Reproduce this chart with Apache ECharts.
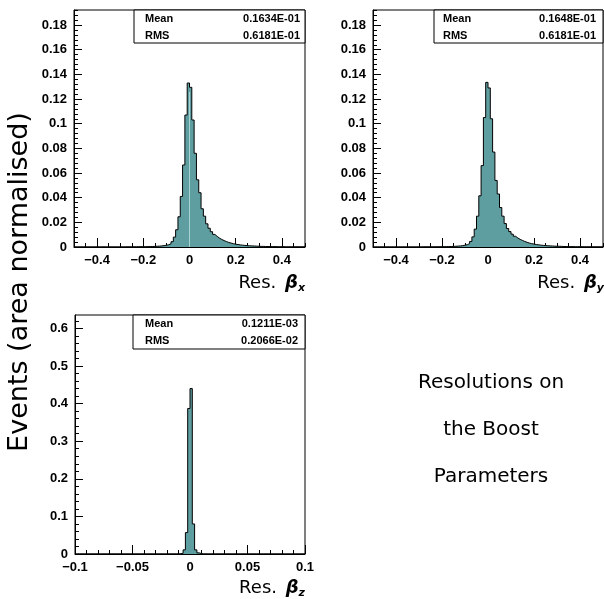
<!DOCTYPE html>
<html><head><meta charset="utf-8">
<script src="https://cdn.jsdelivr.net/npm/echarts@6/dist/echarts.min.js"></script>
<style>html,body{margin:0;padding:0;background:#fff}#c{width:604px;height:599px}</style>
</head><body><div id="c"></div>
<script>
// ---- data ----
const rangeXY = [-0.5, 0.5];
const rangeZ = [-0.1, 0.1];
const yMaxXY = 0.1922;
const yMaxZ = 0.6356;

const binsBx = [
 0,0,0,0,0,0,0,0,0,0,
 0,0,0,0,0,0,0,0,0,0,
 0,0,0.0001,0.0001,0.0001,0.0001,0.0001,0.0002,0.0002,0.0002,
 0.0002,0.0003,0.0003,0.0004,0.0005,0.0006,0.0007,0.0009,0.0011,0.0014,
 0.0018,0.0026,0.0043,0.0080,0.0140,0.0245,0.0410,0.0665,0.1070,0.1330,
 0.1295,0.1030,0.0760,0.0545,0.0440,0.0310,0.0250,0.0188,0.0152,0.0124,
 0.0102,0.0086,0.0072,0.0061,0.0052,0.0044,0.0037,0.0032,0.0027,0.0023,
 0.0020,0.0017,0.0015,0.0013,0.0011,0.0010,0.0009,0.0008,0.0007,0.0006,
 0.0005,0.0005,0.0004,0.0004,0.0003,0.0003,0.0003,0.0002,0.0002,0.0002,
 0.0002,0.0001,0.0001,0.0001,0.0001,0.0001,0.0001,0.0001,0.0001,0.0001
];
const binsBy = [
 0,0,0,0,0,0,0,0,0,0,
 0,0,0,0,0,0,0,0,0,0,
 0,0.0001,0.0001,0.0001,0.0001,0.0001,0.0001,0.0002,0.0002,0.0002,
 0.0003,0.0003,0.0003,0.0004,0.0005,0.0006,0.0007,0.0009,0.0011,0.0015,
 0.0019,0.0027,0.0045,0.0082,0.0145,0.0250,0.0415,0.0660,0.1050,0.1335,
 0.1290,0.1040,0.0770,0.0540,0.0430,0.0320,0.0250,0.0190,0.0150,0.0125,
 0.0104,0.0087,0.0073,0.0062,0.0053,0.0045,0.0038,0.0032,0.0027,0.0024,
 0.0020,0.0018,0.0015,0.0013,0.0012,0.0010,0.0009,0.0008,0.0007,0.0006,
 0.0006,0.0005,0.0004,0.0004,0.0003,0.0003,0.0003,0.0002,0.0002,0.0002,
 0.0002,0.0001,0.0001,0.0001,0.0001,0.0001,0.0001,0.0001,0.0001,0
];
const binsBz = [
 0,0,0,0,0,0,0,0,0,0,
 0,0,0,0,0,0,0,0,0,0,
 0,0,0,0,0,0,0,0,0,0,
 0,0,0,0,0,0,0,0,0,0,
 0,0,0,0,0,0.0005,0.0020,0.0110,0.0570,0.3870,
 0.4400,0.0800,0.0110,0.0030,0.0010,0,0,0,0,0,
 0,0,0,0,0,0,0,0,0,0,
 0,0,0,0,0,0,0,0,0,0,
 0,0,0,0,0,0,0,0,0,0,
 0,0,0,0,0,0,0,0,0,0
];

const xTicksXY = [-0.4, -0.2, 0, 0.2, 0.4];
const xTicksZ = [-0.1, -0.05, 0, 0.05, 0.1];
const yTicksXY = [0, 0.02, 0.04, 0.06, 0.08, 0.1, 0.12, 0.14, 0.16, 0.18];
const yTicksZ = [0, 0.1, 0.2, 0.3, 0.4, 0.5, 0.6];
const xMinorStepXY = 0.05, xMinorStepZ = 0.01;
const yMinorStepXY = 0.004, yMinorStepZ = 0.02;

const statNames = ['Mean', 'RMS'];
const statsBx = ['0.1634E-01', '0.6181E-01'];
const statsBy = ['0.1648E-01', '0.6181E-01'];
const statsBz = ['0.1211E-03', '0.2066E-02'];

const yTitle = 'Events (area normalised)';
const noteLines = ['Resolutions on', 'the Boost', 'Parameters'];

// ---- helpers ----
function stepData(vals, range) {
  const w = (range[1] - range[0]) / vals.length;
  const d = vals.map((v, i) => [range[0] + i * w, v]);
  d.push([range[1], vals[vals.length - 1]]);
  return d;
}
function minorVals(lo, hi, step) {
  const out = [];
  const n = Math.round((hi - lo) / step);
  for (let i = 0; i <= n; i++) out.push(+(lo + i * step).toFixed(6));
  return out;
}
const fmt = v => (v < 0 ? '\u2212' : '') + String(+Math.abs(v).toFixed(4));
const tickFont = {color: '#000', fontFamily: 'Liberation Sans', fontWeight: 'bold', fontSize: 13};

function mainX(g, r, ticks) {
  return {type: 'value', gridIndex: g, position: 'bottom', min: r[0], max: r[1],
    axisLine: {show: true, onZero: false, lineStyle: {color: '#000', width: 1}},
    axisTick: {show: true, inside: true, length: 9, customValues: ticks, lineStyle: {color: '#000', width: 1}},
    axisLabel: Object.assign({show: true, customValues: ticks, margin: 7, formatter: fmt}, tickFont),
    splitLine: {show: false}};
}
function minorX(g, r, step) {
  return {type: 'value', gridIndex: g, position: 'bottom', min: r[0], max: r[1],
    axisLine: {show: false, onZero: false},
    axisTick: {show: true, inside: true, length: 4, customValues: minorVals(r[0], r[1], step), lineStyle: {color: '#000', width: 1}},
    axisLabel: {show: false}, splitLine: {show: false}};
}
function mainY(g, max, ticks) {
  return {type: 'value', gridIndex: g, position: 'left', min: 0, max: max,
    axisLine: {show: true, onZero: false, lineStyle: {color: '#000', width: 1}},
    axisTick: {show: true, inside: true, length: 8, customValues: ticks, lineStyle: {color: '#000', width: 1}},
    axisLabel: Object.assign({show: true, customValues: ticks, margin: 7, formatter: fmt}, tickFont),
    splitLine: {show: false}};
}
function minorY(g, max, step) {
  return {type: 'value', gridIndex: g, position: 'left', min: 0, max: max,
    axisLine: {show: false, onZero: false},
    axisTick: {show: true, inside: true, length: 4, customValues: minorVals(0, max - 1e-9, step), lineStyle: {color: '#000', width: 1}},
    axisLabel: {show: false}, splitLine: {show: false}};
}
function histSeries(i, vals, r, zeroLine) {
  const s = {type: 'line', xAxisIndex: i, yAxisIndex: i, data: stepData(vals, r), step: 'end',
    symbol: 'none', showSymbol: false, clip: true,
    lineStyle: {color: '#000', width: 1}, areaStyle: {color: '#5f9ea0', opacity: 1}};
  if (zeroLine) {
    const mid = vals.length / 2;
    s.markLine = {silent: true, symbol: 'none', label: {show: false},
      lineStyle: {color: '#a9d3d3', width: 1, type: 'solid'},
      data: [[{coord: [0, 0]}, {coord: [0, Math.min(vals[mid - 1], vals[mid]) * 0.97]}]]};
  }
  return s;
}
function statBox(x, y, w, h, vals, nameX, valX) {
  const els = [{type: 'rect', shape: {x: x, y: y, width: w, height: h}, z: 100,
    style: {fill: '#fff', stroke: '#000', lineWidth: 1}}];
  statNames.forEach((n, k) => {
    const cy = y + 9 + k * 16.5;
    els.push({type: 'text', x: nameX, y: cy, z: 101, style: {text: n, font: 'bold 11px "Liberation Sans"', fill: '#000', align: 'left', verticalAlign: 'middle'}});
    els.push({type: 'text', x: valX, y: cy, z: 101, style: {text: vals[k], font: 'bold 11px "Liberation Sans"', fill: '#000', align: 'right', verticalAlign: 'middle'}});
  });
  return els;
}
function resLabel(rightX, y, sub) {
  return {type: 'text', x: rightX, y: y, z: 101, style: {
    text: 'Res. {b|\u03b2}{s|' + sub + '}', align: 'right', verticalAlign: 'middle',
    font: '18px "DejaVu Sans"', fill: '#000',
    rich: {b: {font: 'italic bold 18px "DejaVu Sans"', fill: '#000', padding: [0, 0, 0, 3]},
           s: {font: 'italic bold 11px "DejaVu Sans"', fill: '#000', padding: [10, 0, 0, 0]}}}};
}

const graphics = [].concat(
  statBox(134, 10, 171, 33, statsBx, 145, 300),
  statBox(434, 10, 169, 33, statsBy, 443, 596),
  statBox(133, 315, 172, 34, statsBz, 145, 298),
  [
    resLabel(305, 283, 'x'),
    resLabel(604, 283, 'y'),
    resLabel(305, 588, 'z'),
    {type: 'text', x: 20, y: 282, rotation: Math.PI / 2, z: 101, style: {text: yTitle, font: '27px "DejaVu Sans"', fill: '#000', align: 'center', verticalAlign: 'middle'}}
  ],
  noteLines.map((t, k) => ({type: 'text', x: 491, y: 383 + k * 47, z: 101,
    style: {text: t, font: '20px "DejaVu Sans"', fill: '#000', align: 'center', verticalAlign: 'middle'}}))
);

const chart = echarts.init(document.getElementById('c'), null, {renderer: 'canvas'});
chart.setOption({
  animation: false,
  backgroundColor: '#fff',
  grid: [
    {left: 74, top: 10, width: 231, height: 237, show: true, borderColor: '#000', borderWidth: 1, backgroundColor: 'transparent'},
    {left: 373, top: 10, width: 230, height: 237, show: true, borderColor: '#000', borderWidth: 1, backgroundColor: 'transparent'},
    {left: 75, top: 315, width: 230, height: 239, show: true, borderColor: '#000', borderWidth: 1, backgroundColor: 'transparent'}
  ],
  xAxis: [
    mainX(0, rangeXY, xTicksXY), mainX(1, rangeXY, xTicksXY), mainX(2, rangeZ, xTicksZ),
    minorX(0, rangeXY, xMinorStepXY), minorX(1, rangeXY, xMinorStepXY), minorX(2, rangeZ, xMinorStepZ)
  ],
  yAxis: [
    mainY(0, yMaxXY, yTicksXY), mainY(1, yMaxXY, yTicksXY), mainY(2, yMaxZ, yTicksZ),
    minorY(0, yMaxXY, yMinorStepXY), minorY(1, yMaxXY, yMinorStepXY), minorY(2, yMaxZ, yMinorStepZ)
  ],
  series: [
    histSeries(0, binsBx, rangeXY, true),
    histSeries(1, binsBy, rangeXY, false),
    histSeries(2, binsBz, rangeZ, false)
  ],
  graphic: graphics
});
</script>
</body></html>
